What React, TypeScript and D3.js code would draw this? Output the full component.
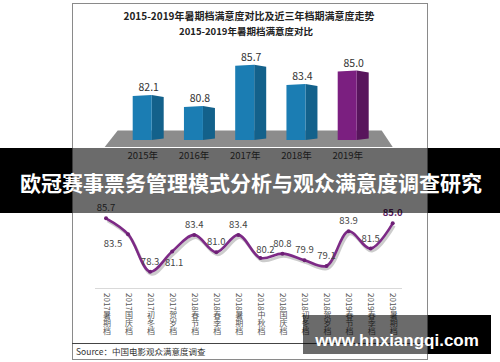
import React, { useRef, useEffect } from "react";
import * as d3 from "d3";

const years = ["2015年", "2016年", "2017年", "2018年", "2019年"];
const yearScores = [82.1, 80.8, 85.7, 83.4, 85.0];

const seasons = [
  "2017暑期档", "2017国庆档", "2017初冬档", "2017贺岁档", "2018春节档", "2018春季档", "2018暑期档",
  "2018中秋档", "2018国庆档", "2018初冬档", "2018贺岁档", "2019春节档", "2019春季档", "2019暑期档",
];
const seasonScores = [85.7, 83.5, 78.3, 81.1, 83.4, 81.0, 83.4, 80.2, 80.8, 79.9, 79.1, 83.9, 81.5, 85.0];
// where each value label sits relative to its point
const labelSide = ["above", "belowLeft", "above", "belowRight", "above", "above", "above",
  "aboveRight", "above", "above", "above", "above", "above", "above"];

const FONT = "'Noto Sans CJK SC', 'Noto Sans', sans-serif";

const App = () => {
  const ref = useRef<SVGSVGElement>(null);

  useEffect(() => {
    if (!ref.current) return;
    const svg = d3.select(ref.current);
    svg.selectAll("*").remove();
    svg.style("font-family", FONT);

    // outer frame
    svg.append("rect").attr("x", 0).attr("y", 0).attr("width", 500).attr("height", 362).attr("fill", "#fff");
    svg.append("rect").attr("x", 72.5).attr("y", 3.5).attr("width", 355).attr("height", 356)
      .attr("fill", "#fff").attr("stroke", "#8a8a8a");

    svg.append("text").attr("x", 249).attr("y", 19.5).attr("text-anchor", "middle")
      .attr("font-size", 10).attr("font-weight", "bold").attr("fill", "#222")
      .text("2015-2019年暑期档满意度对比及近三年档期满意度走势");
    svg.append("text").attr("x", 246).attr("y", 34.5).attr("text-anchor", "middle")
      .attr("font-size", 9.5).attr("font-weight", "bold").attr("fill", "#222")
      .text("2015-2019年暑期档满意度对比");

    // ---- 3D bars ----
    const xb = d3.scalePoint().domain(years).range([132.7, 337.7]);
    const yb = d3.scaleLinear().domain([76.9, 85.7]).range([140, 65.7]);
    const fw = 19, sw = 12;
    const base = yb(76.9);

    const [r0, r1] = xb.range();
    svg.append("polygon")
      .attr("points", `${r0 - 28},${base + 7} ${r0 - 15},${base - 9.5} ${r1 + 44},${base - 9.5} ${r1 + 55},${base + 7}`)
      .attr("fill", "#8c8c8c");

    const bars = svg.append("g").selectAll("g").data(years).join("g");
    bars.each(function (d, i) {
      const g = d3.select(this);
      const x = xb(d)!;
      const top = yb(yearScores[i]);
      const purple = i === years.length - 1;
      const front = purple ? "#7b1f80" : "#1b7db3";
      const side = purple ? "#58155c" : "#13618b";
      g.append("polygon")
        .attr("points", `${x + fw},${top - 1} ${x + fw + sw},${top + 1} ${x + fw + sw},${base - 1.5} ${x + fw},${base}`)
        .attr("fill", side);
      g.append("polygon")
        .attr("points", `${x},${top} ${x + fw},${top - 1} ${x + fw},${base} ${x},${base}`)
        .attr("fill", front);
      g.append("text").attr("x", x + 16).attr("y", top - 5).attr("text-anchor", "middle")
        .attr("font-size", 10.5).attr("fill", "#333").text(yearScores[i].toFixed(1));
      g.append("text").attr("x", x + 10).attr("y", 159).attr("text-anchor", "middle")
        .attr("font-size", 9.5).attr("fill", "#444").text(d);
    });

    // ---- line chart ----
    const xl = d3.scalePoint().domain(seasons).range([106, 392.7]);
    const yl = d3.scaleLinear().domain([78.3, 85.7]).range([271.7, 218.3]);
    const pts = seasons.map((s, i) => [xl(s)!, yl(seasonScores[i])] as [number, number]);
    const line = d3.line().curve(d3.curveCatmullRom.alpha(0.5));

    svg.append("line").attr("x1", 95).attr("x2", 402).attr("y1", 288.5).attr("y2", 288.5)
      .attr("stroke", "#d9d9d9");

    svg.append("path").attr("d", line(pts.map(([x, y]) => [x + 1.5, y + 2.5]))!)
      .attr("fill", "none").attr("stroke", "#999").attr("stroke-opacity", 0.5).attr("stroke-width", 3);
    svg.append("path").attr("d", line(pts)!)
      .attr("fill", "none").attr("stroke", "#7d2a86").attr("stroke-width", 2.6);
    svg.append("g").selectAll("circle").data(pts).join("circle")
      .attr("cx", (d) => d[0]).attr("cy", (d) => d[1]).attr("r", 2).attr("fill", "#6d2075");

    const offs: Record<string, [number, number]> = {
      above: [0, -7], belowLeft: [-15, 13], belowRight: [2, 15], aboveRight: [5, -5],
    };
    svg.append("g").selectAll("text").data(pts).join("text")
      .attr("x", (d, i) => d[0] + offs[labelSide[i]][0])
      .attr("y", (d, i) => d[1] + offs[labelSide[i]][1])
      .attr("text-anchor", "middle")
      .attr("font-size", 9.5)
      .attr("font-weight", (d, i) => (i === pts.length - 1 ? "bold" : "normal"))
      .attr("fill", (d, i) => (i === pts.length - 1 ? "#5a1d62" : "#444"))
      .text((d, i) => seasonScores[i].toFixed(1));

    svg.append("g").selectAll("text").data(seasons).join("text")
      .attr("x", (d) => xl(d)! + 1).attr("y", 293)
      .style("writing-mode", "vertical-rl")
      .attr("font-size", 8).attr("fill", "#555")
      .text((d) => d);

    // footer
    svg.append("line").attr("x1", 72).attr("x2", 427).attr("y1", 343.5).attr("y2", 343.5).attr("stroke", "#444");
    svg.append("text").attr("x", 76).attr("y", 355).attr("font-size", 8.5).attr("fill", "#333")
      .text("Source：中国电影观众满意度调查");

    // overlays
    svg.append("rect").attr("x", 0).attr("y", 148).attr("width", 72).attr("height", 65).attr("fill", "#000");
    svg.append("rect").attr("x", 428).attr("y", 148).attr("width", 72).attr("height", 65).attr("fill", "#000");
    svg.append("rect").attr("x", 72).attr("y", 148).attr("width", 356).attr("height", 65).attr("fill", "rgba(0,0,0,0.58)");
    svg.append("text").attr("x", 251).attr("y", 191).attr("text-anchor", "middle")
      .attr("font-size", 21).attr("font-weight", "bold").attr("fill", "#fff")
      .text("欧冠赛事票务管理模式分析与观众满意度调查研究");

    svg.append("rect").attr("x", 303).attr("y", 315).attr("width", 125).attr("height", 39).attr("fill", "rgba(0,0,0,0.58)");
    svg.append("rect").attr("x", 428).attr("y", 315).attr("width", 63).attr("height", 39).attr("fill", "#000");
    svg.append("text").attr("x", 397).attr("y", 346).attr("text-anchor", "middle")
      .attr("font-family", "'Liberation Sans', Arial, sans-serif")
      .attr("font-size", 17).attr("font-weight", "bold").attr("fill", "#fff")
      .text("www.hnxiangqi.com");
  }, []);

  return (
    <svg ref={ref} width={500} height={362}
      style={{ position: "absolute", left: 0, top: 0, display: "block" }} />
  );
};

export default App;
